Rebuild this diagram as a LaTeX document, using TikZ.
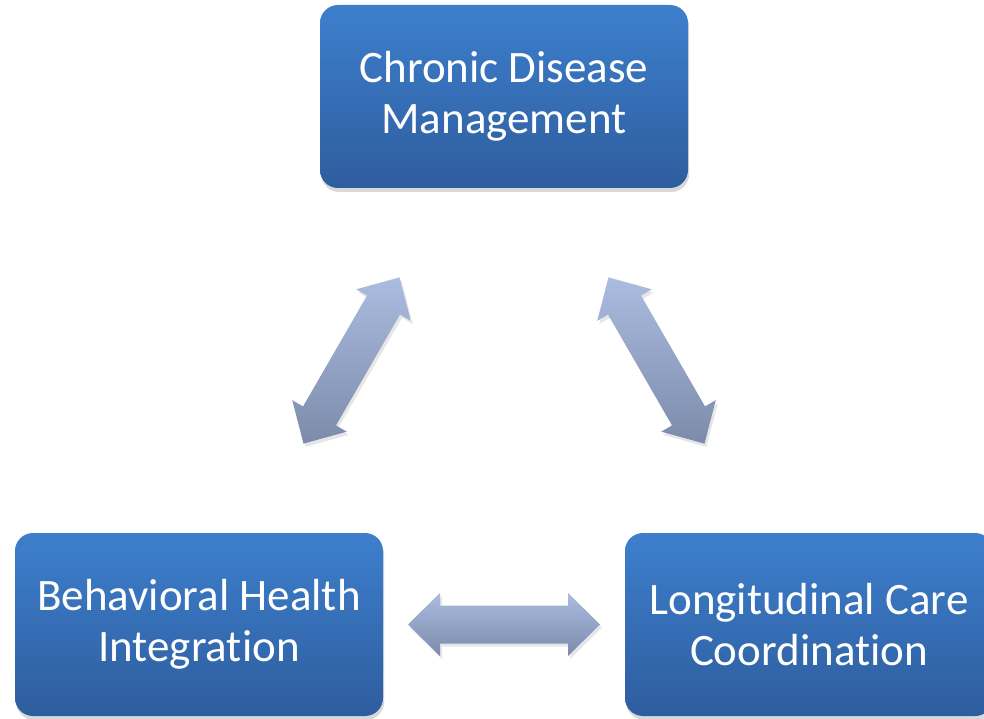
\documentclass[tikz,border=0pt]{standalone}
\usepackage{fontspec}
\setmainfont{Carlito}[Ligatures=NoCommon]
\usepackage{tikz}
\usetikzlibrary{shadows}
\usetikzlibrary{calc}

\definecolor{boxtop}{RGB}{61,127,205}
\definecolor{boxbot}{RGB}{46,93,158}
\definecolor{arrtop}{RGB}{170,188,224}
\definecolor{arrbot}{RGB}{124,139,170}

\tikzset{
    area/.style={rounded corners=0.45cm, minimum width=9.2cm, minimum height=4.575cm,
        top color=boxtop, bottom color=boxbot, text=white, align=center,
        font=\fontsize{32}{36}\selectfont,
        drop shadow={opacity=0.3, shadow xshift=0.03cm, shadow yshift=-0.1cm}},
    pics/link/.style={code={
        \path[top color=arrtop, bottom color=arrbot,
            drop shadow={opacity=0.2, shadow xshift=0.05cm, shadow yshift=-0.08cm}]
            ([rotate=#1]-2.4,0) -- ([rotate=#1]-1.6,0.7875) -- ([rotate=#1]-1.6,0.475)
            -- ([rotate=#1]1.6,0.475) -- ([rotate=#1]1.6,0.7875) -- ([rotate=#1]2.4,0)
            -- ([rotate=#1]1.6,-0.7875) -- ([rotate=#1]1.6,-0.475) -- ([rotate=#1]-1.6,-0.475)
            -- ([rotate=#1]-1.6,-0.7875) -- cycle;}}
}

\begin{document}
\begin{tikzpicture}
        \useasboundingbox (0,0) rectangle (24.6,17.95);

        \node[area] (cdm) at (12.6,15.5375) {Chronic Disease\\Management};
        \node[area] (bhi) at (4.975,2.3375) {Behavioral Health\\Integration};
        \node[area] (lcc) at (20.225,2.3375) {Longitudinal Care\\Coordination};

        \pic at ($(bhi)!0.5!(cdm)$) {link=60};
        \pic at ($(lcc)!0.5!(cdm)$) {link=-60};
        \pic at ($(bhi)!0.5!(lcc)$) {link=0};
\end{tikzpicture}
\end{document}
